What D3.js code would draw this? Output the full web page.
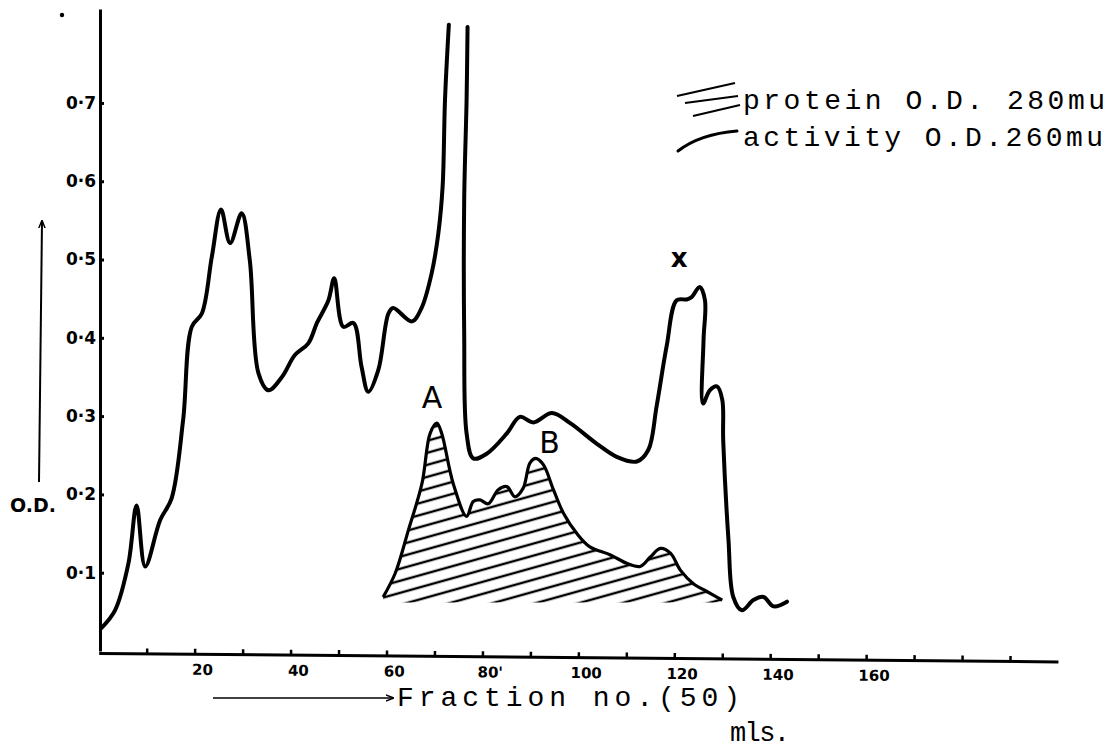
<!DOCTYPE html>
<html><head><meta charset="utf-8">
<script src="https://cdn.jsdelivr.net/npm/d3@7"></script>
<style>body{margin:0;background:#fff}</style>
</head><body>
<svg id="c" width="1111" height="751"></svg>
<script>
// ---- data (fraction no., O.D.) ----
const activityFraction = [0.5,3.4,6.2,7.9,9.7,12.8,15.2,17.6,19.4,21.5,23.6,25.5,27.4,29.8,31.5,33.3,35.4,38.2,40.9,43.7,45.5,47.9,49.1,51.0,53.1,54.8,56.2,58.3,60.4,61.4,65.3,67.3,69.4,70.8,71.7,72.2,73.0,75.0,76.9,76.7,76.2,76.2,76.7,78.1,80.9,85.1,87.8,90.6,94.5,98.3,103.8,108.0,112.2,114.6,116.3,118.4,120.5,122.6,123.6,125.3,126.4,126.1,126.0,127.4,128.9,130.0,130.2,131.3,132.3,134.1,136.5,138.6,140.7,143.5];
const activityOD = [0.029,0.052,0.112,0.186,0.108,0.167,0.195,0.295,0.414,0.431,0.504,0.564,0.521,0.559,0.499,0.355,0.333,0.350,0.378,0.393,0.419,0.448,0.476,0.414,0.419,0.363,0.331,0.359,0.431,0.438,0.421,0.438,0.482,0.533,0.593,0.704,0.800,null,0.797,0.704,0.576,0.406,0.278,0.246,0.252,0.278,0.299,0.292,0.304,0.291,0.265,0.248,0.242,0.257,0.312,0.389,0.448,0.449,0.452,0.465,0.448,0.397,0.316,0.333,0.338,0.321,0.269,0.142,0.069,0.052,0.065,0.069,0.057,0.063];
const proteinFraction = [59.3,61.8,64.6,67.4,69.1,70.5,71.5,73.9,76.7,78.1,79.5,81.2,83.3,85.1,86.8,88.5,89.9,91.1,92.7,94.8,96.9,99.7,102.4,106.6,110.1,112.9,115.0,117.1,119.2,121.3,124.0,126.8,130.0];
const proteinOD = [0.069,0.099,0.155,0.214,0.278,0.291,0.278,0.214,0.172,0.191,0.193,0.188,0.206,0.210,0.197,0.208,0.240,0.246,0.238,0.206,0.176,0.150,0.133,0.123,0.112,0.108,0.120,0.131,0.125,0.103,0.086,0.076,0.065];
const xTickValues = [10,20,30,40,50,60,70,80,90,100,110,120,130,140,150,160,170,180,190];
const xLabelValues = [20,40,60,80,100,120,140,160];
const xLabelTexts = ["20","40","60","80'","100","120","140","160"];
const yTickValues = [0.1,0.2,0.3,0.4,0.5,0.6,0.7];
const yTickTexts = ["0·1","0·2","0·3","0·4","0·5","0·6","0·7"];
const legendTexts = ["protein O.D. 280mu","activity O.D.260mu"];
const peakLabels = [{t:"A",f:69.5,v:0.31},{t:"B",f:94.0,v:0.253},{t:"x",f:121.0,v:0.49}];

const svg = d3.select("#c");
const x = d3.scaleLinear().domain([0,200]).range([98.7,1058]);
const y = d3.scaleLinear().domain([0,0.82]).range([651,9]);

const defs = svg.append("defs");
const pat = defs.append("pattern").attr("id","hatch").attr("patternUnits","userSpaceOnUse")
  .attr("width",40).attr("height",11.6).attr("patternTransform","rotate(-15.6)");
pat.append("line").attr("x1",0).attr("x2",40).attr("y1",5.8).attr("y2",5.8)
  .attr("stroke","#000").attr("stroke-width",2.3);
const mk = defs.append("marker").attr("id","arr").attr("viewBox","0 0 10 10").attr("refX",9).attr("refY",5)
  .attr("markerWidth",8).attr("markerHeight",8).attr("orient","auto-start-reverse").attr("markerUnits","userSpaceOnUse");
mk.append("path").attr("d","M0,1 L10,5 L0,9").attr("fill","none").attr("stroke","#000").attr("stroke-width",1.8);

// x axis (slightly slanted like the hand drawing)
const gx = svg.append("g").attr("transform","rotate(0.5,98.7,653) translate(0,653)")
  .call(d3.axisBottom(x).tickValues(xTickValues).tickSize(-5).tickSizeOuter(0).tickFormat(""));
gx.select(".domain").attr("stroke-width",3);
gx.selectAll(".tick line").attr("stroke-width",2.5);
gx.selectAll(".xl").data(xLabelValues).enter().append("text").attr("class","xl")
  .attr("x",(d)=>x(d)+8).attr("y",21).attr("text-anchor","middle").attr("fill","#000")
  .style("font-family","DejaVu Sans").style("font-weight","bold").style("font-size","15px")
  .text((d,i)=>xLabelTexts[i]);

// y axis
const gy = svg.append("g").attr("transform","translate(100,0)")
  .call(d3.axisLeft(y).tickValues(yTickValues).tickSize(-4).tickPadding(4).tickSizeOuter(0)
    .tickFormat((d,i)=>yTickTexts[i]));
gy.select(".domain").attr("stroke-width",3);
gy.selectAll(".tick line").attr("stroke-width",3);
gy.selectAll(".tick text").attr("fill","#000").style("font-family","DejaVu Sans").style("font-weight","bold").style("font-size","17px");

// protein (hatched)
const pData = proteinFraction.map((f,i)=>({f,v:proteinOD[i]}));
svg.append("path").datum(pData)
  .attr("d", d3.area().x(d=>x(d.f)).y1(d=>y(d.v)).y0(y(0.062)).curve(d3.curveCatmullRom.alpha(0.5)))
  .attr("fill","url(#hatch)");
svg.append("path").datum(pData)
  .attr("d", d3.line().x(d=>x(d.f)).y(d=>y(d.v)).curve(d3.curveCatmullRom.alpha(0.5)))
  .attr("fill","none").attr("stroke","#000").attr("stroke-width",3.2).attr("stroke-linejoin","round");

// activity line
const aData = activityFraction.map((f,i)=>({f,v:activityOD[i]}));
svg.append("path").datum(aData)
  .attr("d", d3.line().defined(d=>d.v!==null).x(d=>x(d.f)).y(d=>y(d.v)).curve(d3.curveCatmullRom.alpha(0.5)))
  .attr("fill","none").attr("stroke","#000").attr("stroke-width",4).attr("stroke-linejoin","round").attr("stroke-linecap","round");

// peak labels
svg.selectAll(".pk").data(peakLabels).enter().append("text")
  .attr("x",d=>x(d.f)).attr("y",d=>y(d.v)).attr("text-anchor","middle")
  .style("font-family","DejaVu Sans").style("font-size",d=>d.t==="x"?"26px":"30px")
  .style("font-weight",d=>d.t==="x"?"bold":"normal")
  .text(d=>d.t);

// axis titles
svg.append("text").attr("x",56).attr("y",512).attr("text-anchor","end")
  .style("font-family","DejaVu Sans").style("font-weight","bold").style("font-size","19px").text("O.D.");
svg.append("line").attr("x1",39).attr("y1",482).attr("x2",42).attr("y2",221)
  .attr("stroke","#000").attr("stroke-width",2).attr("marker-end","url(#arr)");
svg.append("line").attr("x1",213).attr("y1",698).attr("x2",393).attr("y2",698)
  .attr("stroke","#000").attr("stroke-width",1.6).attr("marker-end","url(#arr)");
const mono = "Liberation Mono";
svg.append("text").attr("x",397).attr("y",706).attr("textLength",343).attr("lengthAdjust","spacing")
  .style("font-family",mono).style("font-size","28px").text("Fraction no.(50)");
svg.append("text").attr("x",730).attr("y",741).attr("textLength",60).attr("lengthAdjust","spacing")
  .style("font-family",mono).style("font-size","27px").text("mls.");

// legend
const lg = svg.append("g");
lg.selectAll("text").data(legendTexts).enter().append("text")
  .attr("x",743).attr("y",(d,i)=>109+i*37).attr("textLength",(d,i)=>i?360:362).attr("lengthAdjust","spacing")
  .style("font-family",mono).style("font-size","28px").text(d=>d);
[[677,96,735,83],[685,103,738,96],[693,116,740,105]].forEach(s=>
  lg.append("line").attr("x1",s[0]).attr("y1",s[1]).attr("x2",s[2]).attr("y2",s[3]).attr("stroke","#000").attr("stroke-width",2.2));
lg.append("path").attr("d","M678,151 Q700,134 737,131").attr("fill","none").attr("stroke","#000").attr("stroke-width",3).attr("stroke-linecap","round");

// stray dot
svg.append("circle").attr("cx",62).attr("cy",15).attr("r",2.2).attr("fill","#000");
</script>
</body></html>
